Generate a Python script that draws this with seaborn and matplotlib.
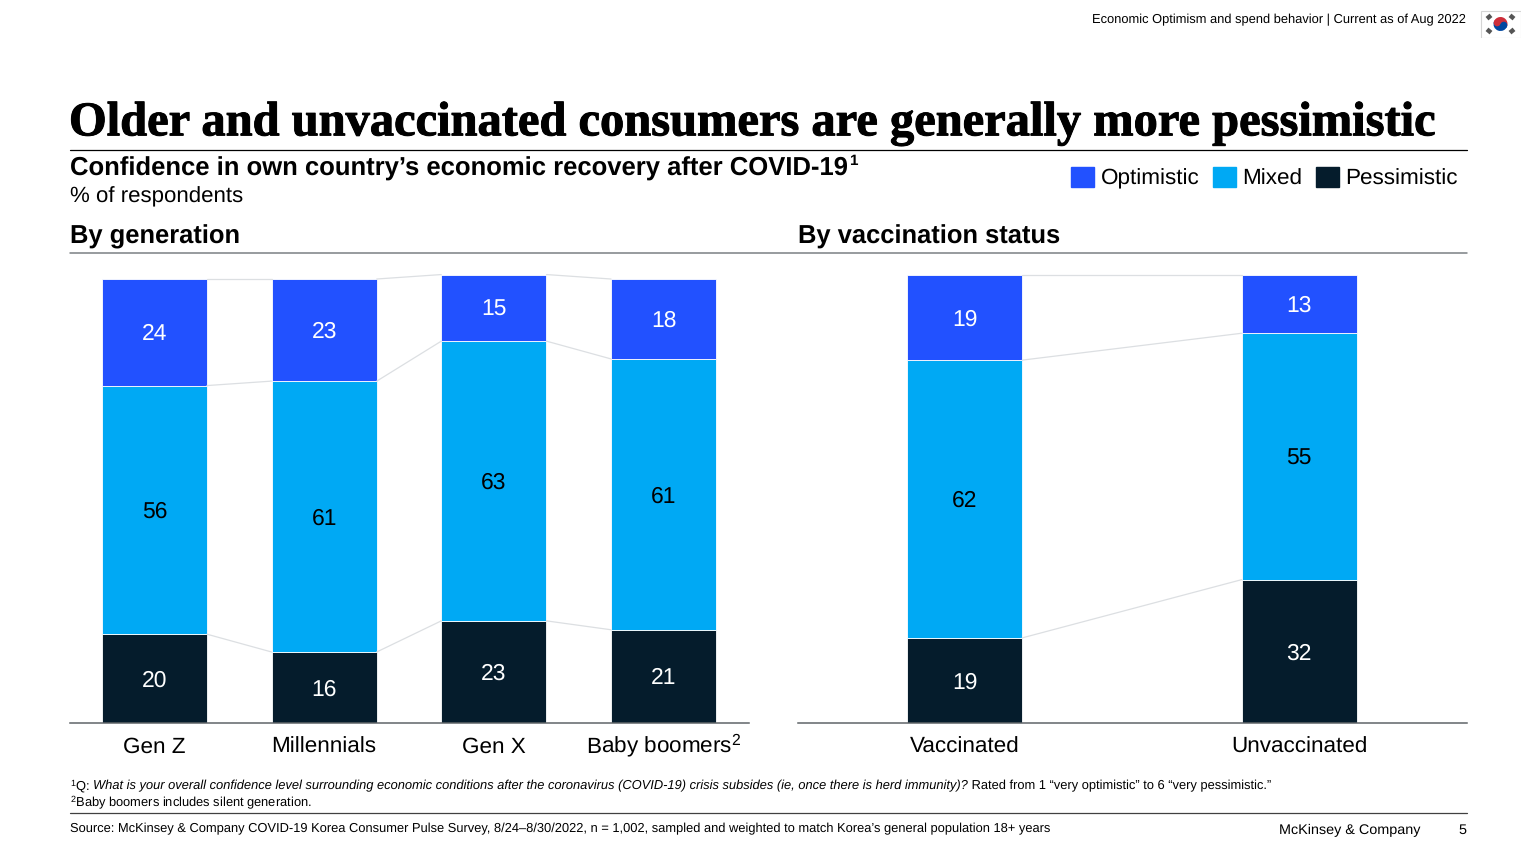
import numpy as np
import matplotlib
matplotlib.use("Agg")
import matplotlib.pyplot as plt
import matplotlib.patheffects as pe
import seaborn as sns
from matplotlib.lines import Line2D
from matplotlib.patches import Patch, Rectangle, Circle, Wedge

sns.set_theme(style="white")
plt.rcParams['font.family'] = ['Liberation Sans', 'DejaVu Sans']
plt.rcParams['mathtext.default'] = 'regular'
plt.rcParams['text.hinting'] = 'no_hinting'
plt.rcParams['text.hinting_factor'] = 8

# data
generations = ["Gen Z", "Millennials", "Gen X", "Baby boomers$^{2}$"]
gen_optimistic = [24, 23, 15, 18]
gen_mixed = [56, 61, 63, 61]
gen_pessimistic = [20, 16, 23, 21]

vacc_status = ["Vaccinated", "Unvaccinated"]
vacc_optimistic = [19, 13]
vacc_mixed = [62, 55]
vacc_pessimistic = [19, 32]

BLUE = "#2251FF"
CYAN = "#00A9F4"
NAVY = "#051C2C"
W, H = 1536, 864

fig = plt.figure(figsize=(W / 100, H / 100), dpi=100, facecolor="white")


def fx(x):
    return x / W


def fy(y):
    return 1 - y / H


def add_text(x, y, s, size, **kw):
    kw.setdefault("color", "black")
    kw.setdefault("va", "center")
    return fig.text(fx(x), fy(y), s, fontsize=size, **kw)


def add_rule(x0, x1, y, color, lw):
    fig.add_artist(Line2D([fx(x0), fx(x1)], [fy(y), fy(y)], color=color, lw=lw))


def stacked_panel(rect, labels, optimistic, mixed, pessimistic, width, px_per_unit):
    left, right, top, bottom = rect
    ax = fig.add_axes([fx(left), fy(bottom), fx(right - left), (bottom - top) / H])
    low = np.array(pessimistic)
    mid = low + np.array(mixed)
    high = mid + np.array(optimistic)
    layers = [
        (pessimistic, np.zeros(len(labels)), NAVY, "white"),
        (mixed, low, CYAN, "black"),
        (optimistic, mid, BLUE, "white"),
    ]
    for vals, base, color, txt in layers:
        sns.barplot(x=labels, y=vals, bottom=base, color=color, saturation=1,
                    width=width, edgecolor="white", linewidth=0.6, ax=ax)
        ax.bar_label(ax.containers[-1], label_type="center", color=txt, fontsize=16.5, padding=-1.5)

    # thin connectors between neighbouring bars
    for tops in (low, mid, high):
        for i in range(len(labels) - 1):
            ax.plot([i + width / 2, i + 1 - width / 2], [tops[i], tops[i + 1]],
                    color="#dcdfe2", lw=0.9, zorder=1)

    ax.set_xlim(-0.5, len(labels) - 0.5)
    ax.set_ylim(0, (bottom - top) / px_per_unit)
    ax.set_yticks([])
    ax.set_xlabel("")
    ax.set_ylabel("")
    ax.tick_params(axis="x", length=0, pad=21.6, labelsize=16.2, labelcolor="black")
    for lab in ax.get_xticklabels():
        lab.set_verticalalignment("baseline")
    sns.despine(ax=ax, left=True)
    ax.spines["bottom"].set_color("#5f6468")
    ax.spines["bottom"].set_linewidth(1.1)
    ax.patch.set_alpha(0)
    return ax


stacked_panel((69.5, 748.5, 262, 723), generations, gen_optimistic, gen_mixed,
              gen_pessimistic, 0.62, 4.44)
stacked_panel((797.5, 1466.5, 262, 723), vacc_status, vacc_optimistic, vacc_mixed,
              vacc_pessimistic, 0.344, 4.48)

# header
add_text(1466, 20, "Economic Optimism and spend behavior | Current as of Aug 2022", 9.29, ha="right")
title = add_text(69, 124, "Older and unvaccinated consumers are generally more pessimistic", 34.9,
                 family=["Liberation Serif"], fontweight="bold")
title.set_path_effects([pe.withStroke(linewidth=0.7, foreground="black")])
add_rule(70, 1466.5, 149.5, "black", 0.9)
subtitle = add_text(70, 168.5, "Confidence in own country’s economic recovery after COVID-19", 18.46, fontweight="bold")
fig.canvas.draw()
add_text(subtitle.get_window_extent().x1 + 1, 161.5, "1", 11, fontweight="bold")
add_text(70, 197, "% of respondents", 16)
add_text(70, 236.5, "By generation", 18.4, fontweight="bold")
add_text(798, 236.5, "By vaccination status", 18.4, fontweight="bold")
add_rule(70, 1466.5, 252.5, "#7b8084", 1.1)

# legend
handles = [Patch(color=BLUE, label="Optimistic"), Patch(color=CYAN, label="Mixed"),
           Patch(color=NAVY, label="Pessimistic")]
fig.legend(handles=handles, ncol=3, frameon=False, fontsize=16.2, labelcolor="black",
           loc="center right", bbox_to_anchor=(fx(1458), fy(178)), handlelength=1.03, handleheight=1.03,
           handletextpad=0.28, columnspacing=0.6, borderpad=0, borderaxespad=0)

# flag
flag = fig.add_axes([fx(1480), fy(38), fx(41), 28 / H])
flag.add_patch(Rectangle((0.5, 0.5), 40, 27, fc="white", ec="#d5d5d5", lw=0.8))
flag.add_patch(Wedge((20.5, 14), 7, 200, 20, fc="#cd2e3a", ec="none"))
flag.add_patch(Wedge((20.5, 14), 7, 20, 200, fc="#0047a0", ec="none"))
flag.add_patch(Circle((17.2, 12.8), 3.5, fc="#cd2e3a", ec="none"))
flag.add_patch(Circle((23.8, 15.2), 3.5, fc="#0047a0", ec="none"))
for cx, cy, ang in [(9, 7, -40), (32, 7, 40), (9, 21, 40), (32, 21, -40)]:
    dx, dy = 2.6 * np.cos(np.radians(ang)), 2.6 * np.sin(np.radians(ang))
    flag.plot([cx - dx, cx + dx], [cy - dy, cy + dy], color="#555555", lw=3.2, solid_capstyle="butt")
flag.set_xlim(0, 41)
flag.set_ylim(28, 0)
flag.axis("off")

# footnotes
note1 = add_text(70, 786, "$^{1}$Q: ", 9.24)
fig.canvas.draw()
x_end = note1.get_window_extent().x1 + 2
note2 = add_text(x_end, 786,
                 "What is your overall confidence level surrounding economic conditions after the coronavirus "
                 "(COVID-19) crisis subsides (ie, once there is herd immunity)?", 9.24, style="italic")
x_end = note2.get_window_extent().x1
add_text(x_end, 786, " Rated from 1 “very optimistic” to 6 “very pessimistic.”", 9.24)
add_text(70, 802, "$^{2}$Baby boomers includes silent generation.", 9.24)
add_rule(70, 1466.5, 813, "#404040", 0.9)
add_text(70, 829, "Source: McKinsey & Company COVID-19 Korea Consumer Pulse Survey, 8/24–8/30/2022, "
         "n = 1,002, sampled and weighted to match Korea’s general population 18+ years", 9.27)
add_text(1420, 830, "McKinsey & Company", 10.37, ha="right")
add_text(1466, 830, "5", 10.37, ha="right")

fig.savefig("out.png", dpi=100)
